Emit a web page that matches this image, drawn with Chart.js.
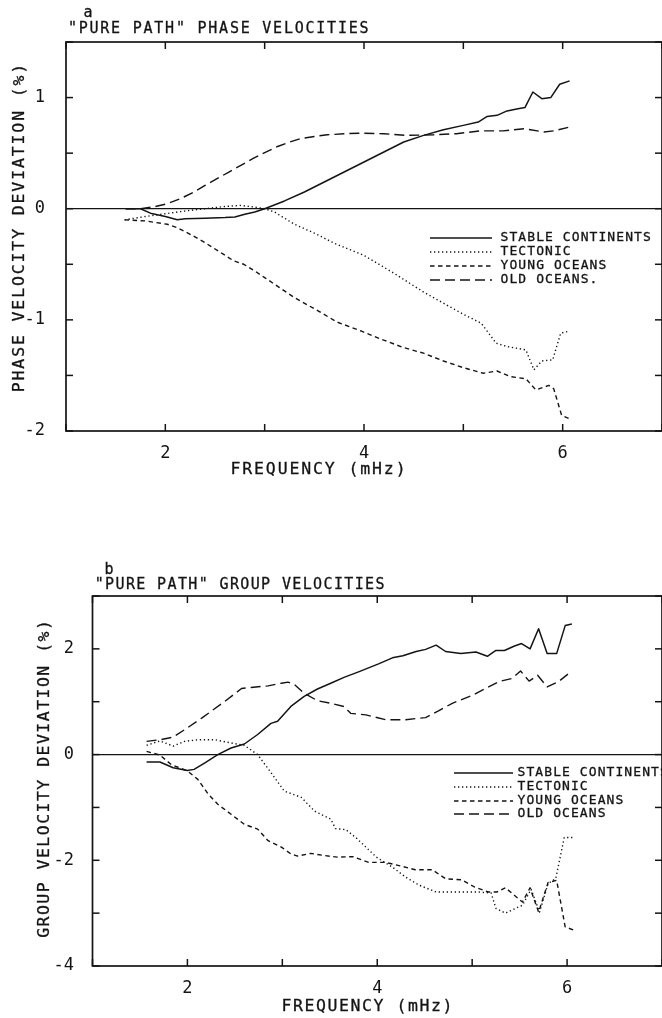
<!DOCTYPE html>
<html>
<head>
<meta charset="utf-8">
<title>Pure path phase and group velocities</title>
<style>
  html, body { margin: 0; padding: 0; background: #fff; overflow: hidden; }
  body { width: 662px; height: 1018px; position: relative; }
  canvas { position: absolute; left: 0; }
  #phase { top: 0; }
  #group { top: 520px; }
</style>
<script src="https://cdn.jsdelivr.net/npm/chart.js"></script>
</head>
<body>
<canvas id="phase" width="666" height="490"></canvas>
<canvas id="group" width="666" height="498"></canvas>
<script>
// ---- Panel a: phase velocity deviation (%) against frequency (mHz) ----
const phaseStableFreq = [1.6, 1.75, 1.85, 2.0, 2.12, 2.2, 2.4, 2.6, 2.7, 2.8, 2.9, 3.0, 3.2, 3.4, 3.6, 3.8, 4.0, 4.2, 4.4, 4.6, 4.8, 5.0, 5.15, 5.24, 5.34, 5.44, 5.55, 5.62, 5.70, 5.79, 5.88, 5.97, 6.07];
const phaseStable     = [0, 0, -0.04, -0.07, -0.10, -0.09, -0.085, -0.08, -0.075, -0.05, -0.03, 0.0, 0.07, 0.15, 0.24, 0.33, 0.42, 0.51, 0.60, 0.66, 0.71, 0.75, 0.78, 0.83, 0.84, 0.88, 0.90, 0.91, 1.05, 0.99, 1.00, 1.12, 1.15];

const phaseTectonicFreq = [1.59, 1.8, 2.0, 2.2, 2.4, 2.6, 2.75, 2.9, 3.0, 3.1, 3.3, 3.5, 3.7, 4.0, 4.3, 4.6, 4.8, 5.0, 5.18, 5.33, 5.44, 5.63, 5.71, 5.79, 5.90, 5.98, 6.07];
const phaseTectonic     = [-0.10, -0.07, -0.045, -0.02, 0.0, 0.02, 0.03, 0.015, 0.0, -0.03, -0.14, -0.22, -0.31, -0.42, -0.58, -0.75, -0.85, -0.95, -1.03, -1.21, -1.24, -1.27, -1.45, -1.37, -1.36, -1.12, -1.10];

const phaseYoungFreq = [1.59, 1.8, 2.02, 2.12, 2.25, 2.39, 2.55, 2.69, 2.79, 2.9, 3.0, 3.15, 3.3, 3.5, 3.73, 3.97, 4.16, 4.4, 4.6, 4.8, 5.0, 5.2, 5.34, 5.47, 5.63, 5.73, 5.86, 5.91, 5.99, 6.07];
const phaseYoung     = [-0.10, -0.11, -0.14, -0.17, -0.23, -0.30, -0.39, -0.47, -0.50, -0.56, -0.62, -0.71, -0.80, -0.90, -1.02, -1.10, -1.17, -1.25, -1.30, -1.37, -1.43, -1.48, -1.46, -1.51, -1.53, -1.63, -1.59, -1.62, -1.86, -1.89];

const phaseOldFreq = [1.6, 1.75, 1.9, 2.02, 2.15, 2.29, 2.4, 2.52, 2.64, 2.76, 2.88, 2.99, 3.13, 3.25, 3.36, 3.5, 3.63, 3.8, 3.97, 4.2, 4.43, 4.7, 4.93, 5.17, 5.4, 5.61, 5.81, 5.91, 6.07];
const phaseOld     = [0, 0.0, 0.02, 0.045, 0.09, 0.15, 0.21, 0.27, 0.33, 0.39, 0.45, 0.50, 0.56, 0.60, 0.63, 0.65, 0.665, 0.675, 0.68, 0.675, 0.66, 0.665, 0.675, 0.70, 0.70, 0.72, 0.69, 0.70, 0.735];

// ---- Panel b: group velocity deviation (%) against frequency (mHz) ----
const groupStableFreq = [1.57, 1.71, 1.85, 2.0, 2.07, 2.18, 2.32, 2.46, 2.60, 2.74, 2.88, 2.95, 3.09, 3.23, 3.37, 3.51, 3.65, 3.81, 4.02, 4.16, 4.27, 4.41, 4.51, 4.62, 4.72, 4.88, 5.04, 5.16, 5.25, 5.34, 5.44, 5.52, 5.61, 5.70, 5.79, 5.89, 5.98, 6.05];
const groupStable     = [-0.14, -0.14, -0.25, -0.30, -0.28, -0.16, 0.0, 0.125, 0.20, 0.38, 0.59, 0.63, 0.91, 1.10, 1.24, 1.35, 1.46, 1.57, 1.72, 1.83, 1.87, 1.95, 1.99, 2.07, 1.95, 1.91, 1.94, 1.86, 1.97, 1.97, 2.05, 2.10, 2.0, 2.38, 1.91, 1.91, 2.44, 2.47];

const groupTectonicFreq = [1.57, 1.71, 1.85, 1.97, 2.11, 2.29, 2.46, 2.60, 2.74, 2.88, 3.02, 3.20, 3.34, 3.51, 3.56, 3.67, 3.78, 3.88, 3.99, 4.16, 4.30, 4.44, 4.62, 4.83, 5.07, 5.20, 5.25, 5.35, 5.53, 5.62, 5.71, 5.80, 5.88, 5.97, 6.06];
const groupTectonic     = [0.175, 0.26, 0.16, 0.25, 0.28, 0.28, 0.22, 0.175, 0.0, -0.34, -0.69, -0.81, -1.07, -1.22, -1.40, -1.42, -1.58, -1.75, -1.94, -2.13, -2.32, -2.47, -2.60, -2.60, -2.60, -2.62, -2.91, -3.0, -2.85, -2.55, -2.98, -2.44, -2.35, -1.57, -1.57];

const groupYoungFreq = [1.57, 1.71, 1.83, 2.0, 2.11, 2.22, 2.32, 2.46, 2.60, 2.74, 2.85, 2.99, 3.09, 3.16, 3.30, 3.44, 3.58, 3.74, 3.91, 4.09, 4.23, 4.40, 4.58, 4.72, 4.89, 5.03, 5.17, 5.26, 5.35, 5.53, 5.61, 5.70, 5.80, 5.89, 5.98, 6.07];
const groupYoung     = [0.06, -0.01, -0.19, -0.31, -0.47, -0.75, -0.94, -1.13, -1.32, -1.41, -1.63, -1.75, -1.88, -1.92, -1.87, -1.91, -1.94, -1.93, -2.04, -2.04, -2.10, -2.18, -2.18, -2.35, -2.37, -2.51, -2.60, -2.60, -2.52, -2.79, -2.52, -2.98, -2.42, -2.38, -3.26, -3.32];

const groupOldFreq = [1.57, 1.71, 1.85, 1.97, 2.15, 2.39, 2.57, 2.67, 2.85, 2.99, 3.06, 3.13, 3.23, 3.37, 3.51, 3.65, 3.72, 3.88, 4.09, 4.30, 4.51, 4.65, 4.79, 5.00, 5.14, 5.28, 5.42, 5.51, 5.60, 5.69, 5.79, 5.91, 6.05];
const groupOld     = [0.25, 0.28, 0.33, 0.47, 0.69, 1.0, 1.25, 1.27, 1.30, 1.35, 1.37, 1.32, 1.16, 1.02, 0.97, 0.91, 0.78, 0.75, 0.66, 0.66, 0.70, 0.83, 0.97, 1.12, 1.25, 1.38, 1.44, 1.58, 1.39, 1.50, 1.28, 1.38, 1.58];

// ---- labels ----
const phaseSeriesNames = ['STABLE CONTINENTS', 'TECTONIC', 'YOUNG OCEANS', 'OLD OCEANS.'];
const groupSeriesNames = ['STABLE CONTINENTS', 'TECTONIC', 'YOUNG OCEANS', 'OLD OCEANS'];
const freqTickLabels  = [2, 4, 6];
const phaseTickLabels = [-2, -1, 0, 1];
const groupTickLabels = [-4, -2, 0, 2];

// ---- drawing ----
const INK = '#141414';
const FONT = "'DejaVu Sans Mono', 'Liberation Mono', monospace";

// solid, dotted, short dash, long dash
const strokeStyles = [
  { borderDash: [], borderWidth: 1.5 },
  { borderDash: [1.3, 2.7], borderWidth: 1.4 },
  { borderDash: [4.5, 3.5], borderWidth: 1.4 },
  { borderDash: [10, 5], borderWidth: 1.4 }
];

function points(xs, ys) { return xs.map((x, i) => ({ x: x, y: ys[i] })); }

function makeDatasets(names, series) {
  return series.map((s, i) => ({
    label: names[i],
    data: points(s[0], s[1]),
    borderColor: INK,
    borderWidth: strokeStyles[i].borderWidth,
    borderDash: strokeStyles[i].borderDash,
    borderCapStyle: 'butt',
    borderJoinStyle: 'round',
    pointRadius: 0,
    tension: 0,
    fill: false
  }));
}

// fixed-advance text with a light pen outline, like a plotter
function spaced(ctx, text, left, y, adv) {
  ctx.textAlign = 'center';
  ctx.textBaseline = 'middle';
  ctx.strokeStyle = INK;
  ctx.lineWidth = 0.3;
  Array.from(text).forEach((ch, i) => {
    const cx = left + adv * (i + 0.5);
    ctx.fillText(ch, cx, y);
    ctx.strokeText(ch, cx, y);
  });
}
function line(ctx, x0, y0, x1, y1) {
  ctx.beginPath(); ctx.moveTo(x0, y0); ctx.lineTo(x1, y1); ctx.stroke();
}

const framePlugin = {
  id: 'frame',
  beforeDatasetsDraw(chart, args, o) {
    const ctx = chart.ctx, a = chart.chartArea;
    const xs = chart.scales.x, ys = chart.scales.y;
    ctx.save();
    ctx.strokeStyle = INK;
    ctx.lineWidth = 1.7;
    ctx.strokeRect(a.left, a.top, a.right - a.left, a.bottom - a.top);
    ctx.lineWidth = 1.3;
    const y0 = ys.getPixelForValue(0);
    line(ctx, a.left, y0, a.right, y0);
    ctx.lineWidth = 1.5;
    const L = o.tickLen;
    xs.ticks.forEach(t => {
      const px = xs.getPixelForValue(t.value);
      line(ctx, px, a.bottom, px, a.bottom - L);
      line(ctx, px, a.top, px, a.top + L);
    });
    ys.ticks.forEach(t => {
      const py = ys.getPixelForValue(t.value);
      line(ctx, a.left, py, a.left + L, py);
      line(ctx, a.right, py, a.right - L, py);
    });
    ctx.restore();
  },
  afterDraw(chart, args, o) {
    const ctx = chart.ctx;
    ctx.save();
    ctx.fillStyle = INK;
    // panel letter
    ctx.font = o.markFont + 'px ' + FONT;
    spaced(ctx, o.mark, o.markX - 5, o.markY, 10);
    // heading
    ctx.font = o.titleFont + 'px ' + FONT;
    spaced(ctx, o.title, o.titleX, o.titleY, o.titleAdv);
    // x axis title
    ctx.font = o.axisFont + 'px ' + FONT;
    spaced(ctx, o.xTitle, o.xTitleX - o.xTitleAdv * o.xTitle.length / 2, o.xTitleY, o.xTitleAdv);
    // y axis title
    ctx.save();
    ctx.translate(o.yTitleX, o.yTitleY);
    ctx.rotate(-Math.PI / 2);
    spaced(ctx, o.yTitle, -o.yTitleAdv * o.yTitle.length / 2, 0, o.yTitleAdv);
    ctx.restore();
    // key
    const lg = o.legend;
    chart.data.datasets.forEach((ds, i) => {
      const y = lg.rows[i];
      ctx.save();
      ctx.strokeStyle = INK;
      ctx.lineWidth = ds.borderWidth;
      ctx.setLineDash(ds.borderDash);
      line(ctx, lg.x0, y, lg.x1, y);
      ctx.restore();
      ctx.font = lg.font + 'px ' + FONT;
      spaced(ctx, ds.label, lg.textX, y, lg.adv);
    });
    ctx.restore();
  }
};

function buildChart(id, cfg) {
  return new Chart(document.getElementById(id), {
    type: 'line',
    data: { datasets: makeDatasets(cfg.names, cfg.series) },
    options: {
      responsive: false,
      animation: false,
      events: [],
      parsing: true,
      layout: { padding: { top: cfg.padTop, right: cfg.padRight, left: 0, bottom: 0 } },
      plugins: {
        legend: { display: false },
        tooltip: { enabled: false },
        frame: cfg.frame
      },
      scales: {
        x: {
          type: 'linear', min: 1, max: 7,
          afterFit: s => { s.height = cfg.xHeight; },
          grid: { display: false }, border: { display: false },
          ticks: {
            stepSize: 1, autoSkip: false, maxRotation: 0, padding: cfg.xPad,
            color: INK, font: { family: FONT, size: 17 },
            callback: v => freqTickLabels.includes(v) ? String(v) : ''
          }
        },
        y: {
          type: 'linear', min: cfg.yMin, max: cfg.yMax,
          afterFit: s => { s.width = cfg.yWidth; },
          grid: { display: false }, border: { display: false },
          ticks: {
            stepSize: cfg.yStep, autoSkip: false, padding: cfg.yPad,
            color: INK, font: { family: FONT, size: 17 },
            callback: v => cfg.yLabels.includes(v) ? String(v) : ''
          }
        }
      }
    },
    plugins: [framePlugin]
  });
}

buildChart('phase', {
  names: phaseSeriesNames,
  series: [[phaseStableFreq, phaseStable], [phaseTectonicFreq, phaseTectonic],
           [phaseYoungFreq, phaseYoung], [phaseOldFreq, phaseOld]],
  padTop: 42, padRight: 3.6, xHeight: 59, yWidth: 66, xPad: 4, yPad: 13,
  yMin: -2, yMax: 1.5, yStep: 0.5, yLabels: phaseTickLabels,
  frame: {
    tickLen: 7,
    mark: 'a', markX: 88, markY: 13, markFont: 15,
    title: '"PURE PATH" PHASE VELOCITIES', titleX: 67, titleY: 29, titleAdv: 10.8, titleFont: 15,
    xTitle: 'FREQUENCY (mHz)', xTitleX: 318, xTitleY: 470, xTitleAdv: 11.8,
    yTitle: 'PHASE VELOCITY DEVIATION (%)', yTitleX: 20, yTitleY: 228, yTitleAdv: 11.8,
    axisFont: 16.5,
    legend: { x0: 430, x1: 492, textX: 500, rows: [238, 252, 266, 280], adv: 8.9, font: 13 }
  }
});

buildChart('group', {
  names: groupSeriesNames,
  series: [[groupStableFreq, groupStable], [groupTectonicFreq, groupTectonic],
           [groupYoungFreq, groupYoung], [groupOldFreq, groupOld]],
  padTop: 76, padRight: 2.6, xHeight: 52, yWidth: 92.5, xPad: 4, yPad: 10.5,
  yMin: -4, yMax: 3, yStep: 1, yLabels: groupTickLabels,
  frame: {
    tickLen: 7,
    mark: 'b', markX: 109, markY: 50, markFont: 15,
    title: '"PURE PATH" GROUP VELOCITIES', titleX: 94, titleY: 65, titleAdv: 10.4, titleFont: 15,
    xTitle: 'FREQUENCY (mHz)', xTitleX: 367, xTitleY: 487, xTitleAdv: 11.5,
    yTitle: 'GROUP VELOCITY DEVIATION (%)', yTitleX: 45, yTitleY: 259, yTitleAdv: 11.4,
    axisFont: 16.5,
    legend: { x0: 454, x1: 513, textX: 517, rows: [253, 267, 281, 294], adv: 8.9, font: 13 }
  }
});
</script>
</body>
</html>
